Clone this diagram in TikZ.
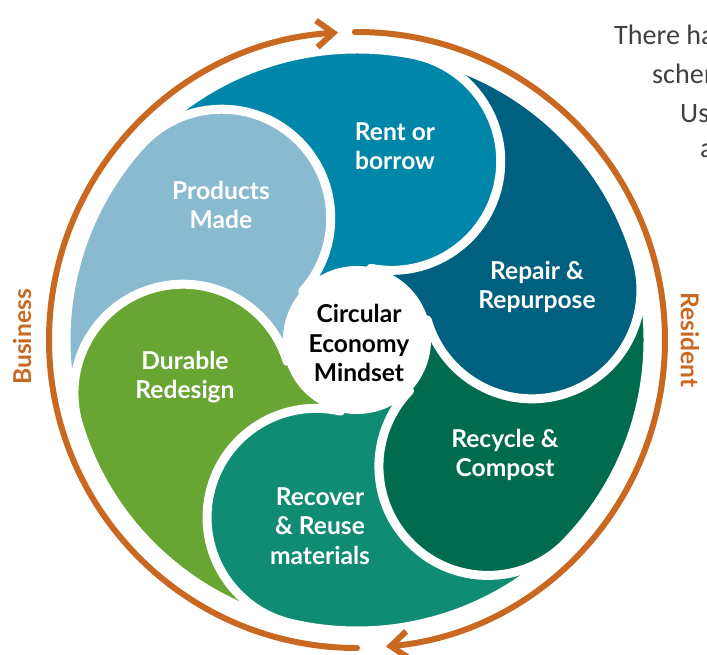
\documentclass[tikz,border=0pt]{standalone}
\usepackage{fontspec}
\setmainfont{Lato}
\newfontfamily\notefont{Carlito}
\usetikzlibrary{arrows.meta}

\definecolor{ringorange}{RGB}{201,104,33}
\definecolor{rentblue}{RGB}{0,134,168}
\definecolor{prodblue}{RGB}{138,186,208}
\definecolor{repairblue}{RGB}{0,96,128}
\definecolor{durgreen}{RGB}{105,165,51}
\definecolor{recovgreen}{RGB}{15,140,114}
\definecolor{recygreen}{RGB}{0,107,77}
\definecolor{notegray}{RGB}{64,64,64}

\tikzset{
  petal/.style={draw=white, line width=2.7mm, line join=round},
  petaltext/.style={text=white, align=center, font=\fontsize{21}{25}\selectfont\bfseries},
  hubtext/.style={text=black, align=center, font=\fontsize{21}{25}\selectfont\bfseries},
  ring/.style={draw=ringorange, line width=1.8mm, line cap=round},
  side/.style={text=ringorange, font=\fontsize{21}{25}\selectfont\bfseries},
  note/.style={text=notegray, inner sep=0pt, anchor=base west, font=\notefont\fontsize{24}{29}\selectfont},
  barb/.tip={Straight Barb[length=5mm, width=8mm, sharp]},
}

\begin{document}
\begin{tikzpicture}[x=0.3mm, y=0.3mm]
\useasboundingbox (-357,-315) rectangle (350,340);

% the six petals, counter-clockwise; each tail runs under the next lobe
\foreach \ang/\col in {16/repairblue, 79/rentblue, 138/prodblue, 197/durgreen, 257/recovgreen, 316/recygreen}
  \filldraw[petal, fill=\col, rotate=\ang] (0:291) arc[start angle=0, end angle=-180, radius=109]
    -- (25:20) -- (58:40) -- (56:150) -- (53:291) arc[start angle=53, end angle=0, radius=291] -- cycle;

% repair lobe once more, on top of the recycle tail
\begin{scope}
  \clip (0,0) -- (-40:400) arc[start angle=-40, end angle=38, radius=400] -- cycle;
  \filldraw[petal, fill=repairblue, rotate=16] (0:291) arc[start angle=0, end angle=-180, radius=109]
    -- (25:20) -- (58:40) -- (56:150) -- (53:291) arc[start angle=53, end angle=0, radius=291] -- cycle;
\end{scope}

% hub
\fill[white] (0,0) circle[radius=74];
\node[hubtext] (hub) at (2,-3) {Circular\\Economy\\Mindset};

\node[petaltext] (rent) at (38,194) {Rent or\\borrow};
\node[petaltext] (products) at (-136,135) {Products\\Made};
\node[petaltext] (durable) at (-172,-37) {Durable\\Redesign};
\node[petaltext] (recover) at (-37,-186) {Recover\\\& Reuse\\materials};
\node[petaltext] (recycle) at (148,-115) {Recycle \&\\Compost};
\node[petaltext] (repair) at (180,53) {Repair \&\\Repurpose};

% outer ring, clockwise
\draw[ring, -barb] (90.4:308) arc[start angle=90.4, end angle=-84.6, radius=308];
\draw[ring, -barb] (-90:308) arc[start angle=-90, end angle=-266.5, radius=308];

\node[side, rotate=90] (business) at (-335,3) {Business};
\node[side, rotate=-90] (resident) at (333,0) {Resident};

% side note, runs off the right edge
\begin{scope}
  \clip (-357,-315) rectangle (350,340);
  \node[note] (note1) at (257,295) {There ha};
  \node[note] (note2) at (295,256) {schem};
  \node[note] (note3) at (323,217) {Us};
  \node[note] (note4) at (343,182) {a};
\end{scope}
\end{tikzpicture}
\end{document}
